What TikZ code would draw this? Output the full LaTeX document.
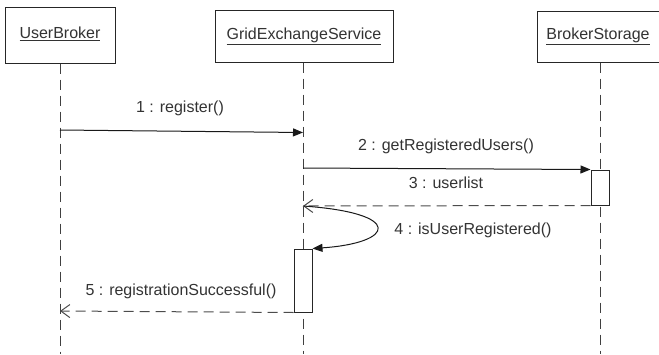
\documentclass[tikz,border=0pt]{standalone}
\usepackage{fontspec}
\setmainfont{Liberation Sans}
\usetikzlibrary{arrows.meta}
\definecolor{ink}{HTML}{333333}
\tikzset{
  x=1pt, y=-1pt,
  every node/.style={font=\fontsize{16}{19}\selectfont, text=ink},
  objbox/.style={draw=black!85, line width=1pt, fill=white, inner sep=0pt},
  lifeline/.style={draw=black!75, line width=1pt, dash pattern=on 10pt off 6pt},
  actbox/.style={draw=black!85, line width=1pt, fill=white, inner sep=0pt, minimum width=18pt},
  callmsg/.style={draw=black!90, line width=1pt, -{Triangle[length=10pt,width=8pt]}},
  replymsg/.style={draw=black!70, line width=1pt, dash pattern=on 10pt off 6pt,
                   -{Straight Barb[length=9pt,width=13pt,line width=1pt]}},
  msglabel/.style={inner sep=0pt}
}
\begin{document}
\begin{tikzpicture}
\useasboundingbox (0,0) rectangle (659,354);

% object heads
\node[objbox, minimum width=110pt, minimum height=56pt] (ub) at (60,35) {\raisebox{4pt}{\underline{UserBroker}}};
\node[objbox, minimum width=178pt, minimum height=52pt] (ges) at (304,36) {\raisebox{4pt}{\underline{GridExchangeService}}};
\node[objbox, minimum width=122pt, minimum height=51pt] (bs) at (598,36.5) {\raisebox{4pt}{\underline{BrokerStorage}}};

% ends of the lifelines
\coordinate (ubEnd) at (60,354);
\coordinate (gesEnd) at (303,354);
\coordinate (bsEnd) at (600,354);

% lifelines
\draw[lifeline] (ub.south -| ubEnd) -- (ubEnd);
\draw[lifeline] (ges.south -| gesEnd) -- (gesEnd);
\draw[lifeline] (bs.south -| bsEnd) -- (bsEnd);

% activation bars
\node[actbox, minimum height=35pt] (actBS) at (600,187.5) {};
\node[actbox, minimum height=63pt] (actGES) at (303,280.5) {};

% message end points on the lifelines
\coordinate (m1s) at (60,130);
\coordinate (m1e) at (303,132.5);
\coordinate (m2s) at (303,168);
\coordinate (m3e) at (303,206);
\coordinate (m5e) at (60,311);

% 1: register
\draw[callmsg] (m1s) -- (m1e);
\node[msglabel] (l1) at (180,108) {1 : register()};

% 2: getRegisteredUsers
\draw[callmsg] (m2s) -- (actBS.north west);
\node[msglabel] (l2) at (446,146) {2 : getRegisteredUsers()};

% 3: userlist
\draw[replymsg] (actBS.south west) -- (m3e);
\node[msglabel] (l3) at (446,183) {3 : userlist};

% 4: isUserRegistered (self call)
\draw[callmsg] (m3e) .. controls (405,213) and (395,243) .. (actGES.north east);
\node[msglabel] (l4) at (473,230) {4 : isUserRegistered()};

% 5: registrationSuccessful
\draw[replymsg] (actGES.south west) -- (m5e);
\node[msglabel] (l5) at (181,291) {5 : registrationSuccessful()};
\end{tikzpicture}
\end{document}
